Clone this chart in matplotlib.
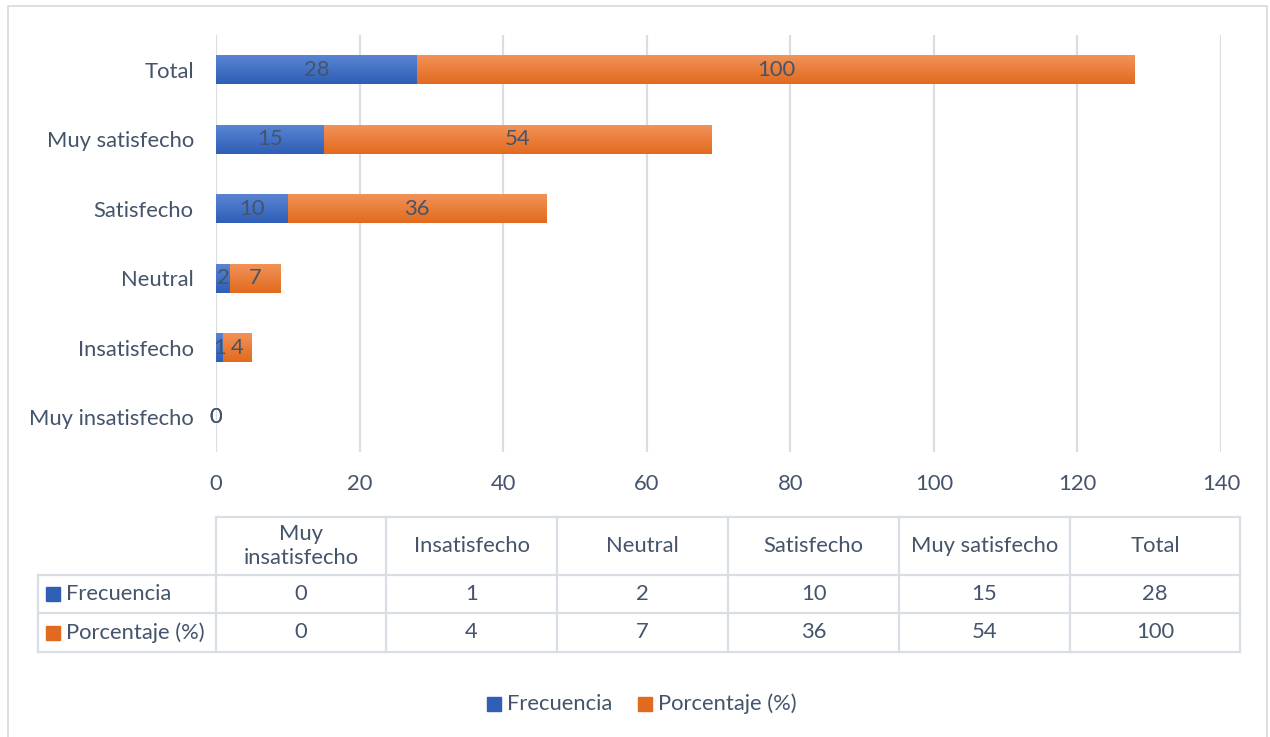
import matplotlib.pyplot as plt
import numpy as np
from matplotlib.colors import LinearSegmentedColormap
from matplotlib.lines import Line2D
from matplotlib.patches import Rectangle

categories = ["Muy insatisfecho", "Insatisfecho", "Neutral", "Satisfecho", "Muy satisfecho", "Total"]
frecuencia = [0, 1, 2, 10, 15, 28]
porcentaje = [0, 4, 7, 36, 54, 100]
series_names = ["Frecuencia", "Porcentaje (%)"]
xticks = [0, 20, 40, 60, 80, 100, 120, 140]

W, H = 1270, 737
text_color = "#44546A"
grid_color = "#D9DEE5"
blue_top, blue_bot = "#5B86D4", "#2E5EB6"
orange_top, orange_bot = "#F2945A", "#E26A1E"

plt.rcParams["font.family"] = ["Lato", "DejaVu Sans"]
fs = 15.8

fig = plt.figure(figsize=(W / 100, H / 100), dpi=100)


def fx(px):
    return px / W


def fy(py):
    return 1 - py / H


# chart frame
fig.add_artist(Rectangle((fx(8), fy(745)), fx(1267) - fx(8), fy(6) - fy(745),
                         transform=fig.transFigure, fill=False,
                         edgecolor="#D9D9D9", linewidth=1.2))

ax = fig.add_axes([fx(216), fy(452), fx(1221) - fx(216), fy(35) - fy(452)])
for s in ax.spines.values():
    s.set_visible(False)
ax.set_xticks(xticks)
ax.grid(axis="x", color=grid_color, linewidth=1.6)
ax.set_axisbelow(True)
ax.tick_params(length=0, labelsize=fs, colors=text_color)
ax.tick_params(axis="x", pad=16)
ax.tick_params(axis="y", pad=16)
ax.set_yticks(range(len(categories)))
ax.set_yticklabels(categories)

y = np.arange(len(categories))
bar_h = 0.42


def gradient_bars(bars, top, bot):
    # vertical shading: light at the top edge, darker at the bottom
    grad = np.linspace(0, 1, 64).reshape(-1, 1)
    cmap = LinearSegmentedColormap.from_list("g", [top, bot])
    for b in bars:
        x0, y0 = b.get_x(), b.get_y()
        w, h = b.get_width(), b.get_height()
        if w <= 0:
            continue
        b.set_facecolor("none")
        im = ax.imshow(grad, cmap=cmap, aspect="auto",
                       extent=(x0, x0 + w, y0, y0 + h), zorder=2)
        im.set_clip_path(b)


bars_f = ax.barh(y, frecuencia, height=bar_h, color=blue_top, zorder=2, linewidth=0)
bars_p = ax.barh(y, porcentaje, left=frecuencia, height=bar_h, color=orange_top,
                 zorder=2, linewidth=0)
gradient_bars(bars_f, blue_top, blue_bot)
gradient_bars(bars_p, orange_top, orange_bot)
ax.set_xlim(0, 140)
ax.set_ylim(-0.5, len(categories) - 0.5)

for i in range(len(categories)):
    ax.text(frecuencia[i] / 2, y[i], str(frecuencia[i]), ha="center", va="center",
            fontsize=fs, color=text_color, zorder=3)
    ax.text(frecuencia[i] + porcentaje[i] / 2, y[i], str(porcentaje[i]), ha="center",
            va="center", fontsize=fs, color=text_color, zorder=3)

# data table under the axis
col_edges = [216, 386, 557, 728, 899, 1070, 1240]
row_edges = [517, 575, 613, 652]
label_left = 38


def hline(x0, x1, yy):
    fig.add_artist(Line2D([fx(x0), fx(x1)], [fy(yy), fy(yy)], transform=fig.transFigure,
                          color=grid_color, linewidth=1.6))


def vline(xx, y0, y1):
    fig.add_artist(Line2D([fx(xx), fx(xx)], [fy(y0), fy(y1)], transform=fig.transFigure,
                          color=grid_color, linewidth=1.6))


hline(col_edges[0], col_edges[-1], row_edges[0])
for r in row_edges[1:]:
    hline(label_left, col_edges[-1], r)
for c in col_edges:
    vline(c, row_edges[0], row_edges[-1])
vline(label_left, row_edges[1], row_edges[-1])

header_labels = ["Muy\ninsatisfecho"] + categories[1:]
for j, lab in enumerate(header_labels):
    cx = (col_edges[j] + col_edges[j + 1]) / 2
    cy = (row_edges[0] + row_edges[1]) / 2
    fig.text(fx(cx), fy(cy), lab, ha="center", va="center", fontsize=fs,
             color=text_color, linespacing=1.3)

table_rows = [frecuencia, porcentaje]
swatches = [(blue_top, blue_bot), (orange_top, orange_bot)]
for r, vals in enumerate(table_rows):
    cy = (row_edges[r + 1] + row_edges[r + 2]) / 2
    fig.add_artist(Rectangle((fx(46), fy(cy + 7)), fx(60) - fx(46), fy(cy - 7) - fy(cy + 7),
                             transform=fig.transFigure, color=swatches[r][1]))
    fig.text(fx(66), fy(cy), series_names[r], ha="left", va="center", fontsize=fs,
             color=text_color)
    for j, v in enumerate(vals):
        cx = (col_edges[j] + col_edges[j + 1]) / 2
        fig.text(fx(cx), fy(cy), str(v), ha="center", va="center", fontsize=fs,
                 color=text_color)

# legend
leg_items = [(487, series_names[0], swatches[0][1]), (638, series_names[1], swatches[1][1])]
for x0, name, col in leg_items:
    fig.add_artist(Rectangle((fx(x0), fy(711)), fx(x0 + 14) - fx(x0), fy(697) - fy(711),
                             transform=fig.transFigure, color=col))
    fig.text(fx(x0 + 20), fy(704), name, ha="left", va="center", fontsize=fs,
             color=text_color)

fig.savefig("out.png", dpi=100)
